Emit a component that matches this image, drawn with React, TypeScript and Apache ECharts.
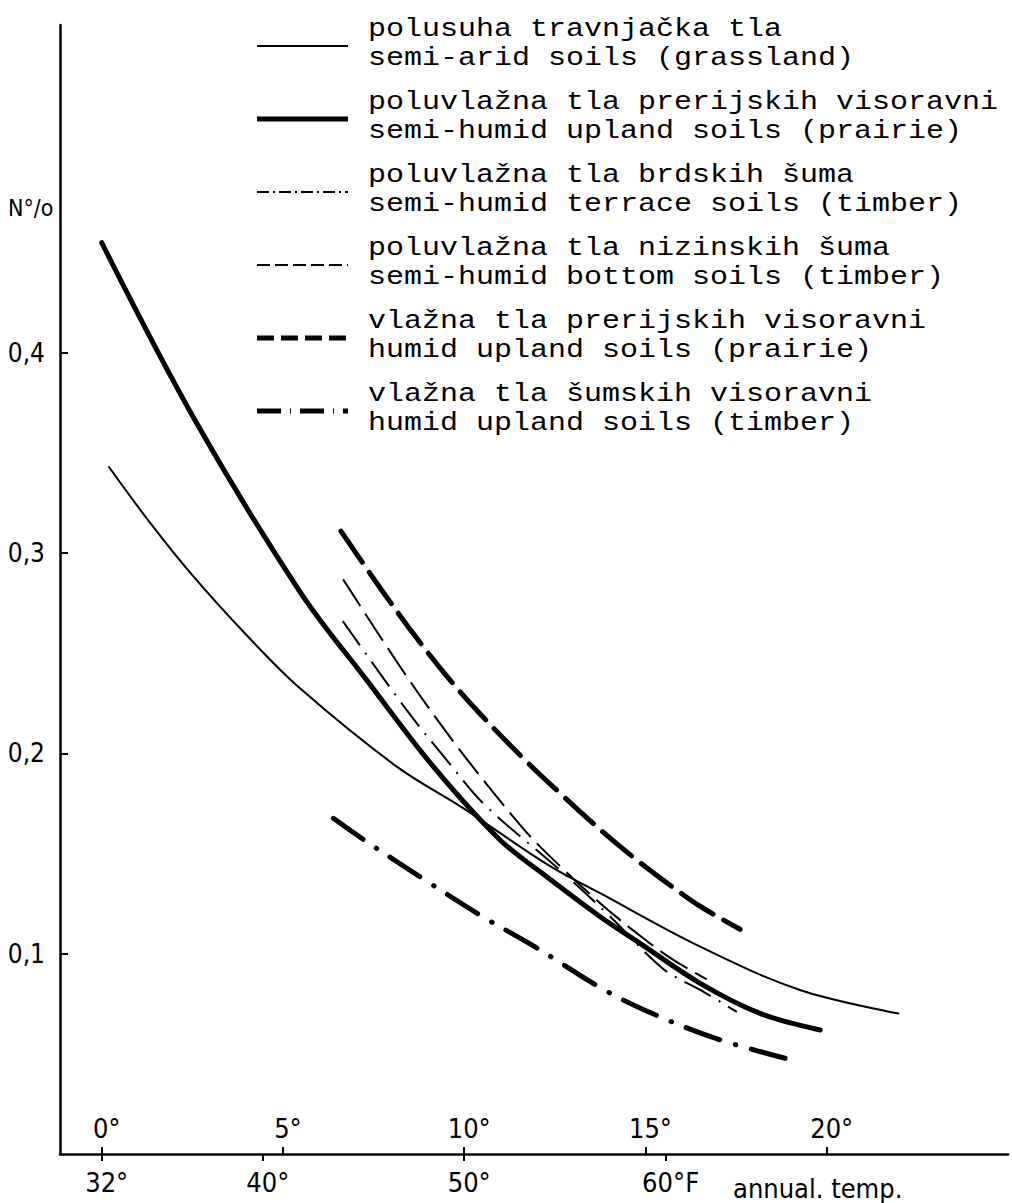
import React, { useEffect, useRef } from "react";
import * as echarts from "echarts";

// Axis ticks
const celsiusTicks = [0, 5, 10, 15, 20];
const fahrenheitTicks = [32, 40, 50, 60];
const nTicks = [0.1, 0.2, 0.3, 0.4];

// Series data: [annual temperature °C, N %]
const semiAridGrassland = [
  [0.2, 0.343], [1.3, 0.316], [2.5, 0.289], [4.0, 0.259], [5.47, 0.2325], [8.14, 0.1934],
  [9.98, 0.1726], [12.3, 0.1445], [13.75, 0.1302], [16.51, 0.1035], [19.26, 0.0819],
  [21.98, 0.0702],
];
const semiHumidUplandPrairie = [
  [0.0, 0.455], [2.57, 0.3665], [5.47, 0.2807], [7.31, 0.2366], [9.15, 0.1934],
  [10.99, 0.1568], [12.28, 0.1384], [13.75, 0.1185], [14.85, 0.1052], [16.51, 0.0852],
  [18.16, 0.0702], [19.82, 0.0619],
];
const semiHumidTerraceTimber = [
  [6.65, 0.2661], [8.41, 0.2217], [9.54, 0.1962], [10.55, 0.1746], [12.64, 0.1418],
  [14.0, 0.119], [15.49, 0.0924], [16.51, 0.0819], [17.52, 0.071],
];
const semiHumidBottomTimber = [
  [6.66, 0.2869], [8.43, 0.238], [9.88, 0.2017], [11.54, 0.1643], [12.28, 0.1501],
  [13.75, 0.1252], [14.94, 0.1077], [15.77, 0.0969], [16.69, 0.0872],
];
const humidUplandPrairie = [
  [6.6, 0.311], [7.76, 0.2806], [8.73, 0.2566], [9.61, 0.2366], [10.52, 0.2182],
  [11.62, 0.1977], [12.7, 0.1792], [13.83, 0.1607], [14.85, 0.1455], [15.86, 0.1318],
  [16.55, 0.1232], [17.61, 0.1122],
];
const humidUplandTimber = [
  [6.39, 0.1676], [7.31, 0.1559], [8.92, 0.1368], [10.5, 0.1186], [12.0, 0.1029],
  [13.79, 0.0827], [15.03, 0.0714], [16.92, 0.0578], [18.85, 0.0478],
];

const legendLocal = [
  "polusuha travnjačka tla",
  "poluvlažna tla prerijskih visoravni",
  "poluvlažna tla brdskih šuma",
  "poluvlažna tla nizinskih šuma",
  "vlažna tla prerijskih visoravni",
  "vlažna tla šumskih visoravni",
];
const legendEnglish = [
  "semi-arid soils (grassland)",
  "semi-humid upland soils (prairie)",
  "semi-humid terrace soils (timber)",
  "semi-humid bottom soils (timber)",
  "humid upland soils (prairie)",
  "humid upland soils (timber)",
];

const seriesData = [
  semiAridGrassland,
  semiHumidUplandPrairie,
  semiHumidTerraceTimber,
  semiHumidBottomTimber,
  humidUplandPrairie,
  humidUplandTimber,
];

const lineStyles: any[] = [
  { width: 2, type: "solid", cap: "round" },
  { width: 5, type: "solid", cap: "round" },
  { width: 2, type: [30, 9, 2, 9], cap: "butt" },
  { width: 2, type: [32, 9], cap: "butt" },
  { width: 5, type: [38, 12], cap: "round" },
  { width: 5, type: [36, 16, 0.5, 16], cap: "round" },
];
const legendDash: any[] = [null, null, [12, 4, 2, 4], [13, 5], [17, 7], [24, 9, 1, 9]];

const FONT = "'Liberation Sans Narrow', 'DejaVu Sans Condensed', Roboto, sans-serif";
const MONO = "'Liberation Mono', 'DejaVu Sans Mono', monospace";

export default function App() {
  const ref = useRef<HTMLDivElement>(null);
  useEffect(() => {
    const chart = echarts.init(ref.current!, null, { renderer: "svg" });
    const cMin = -1.15;
    const cMax = 25;
    const legendChildren: any[] = [];
    legendLocal.forEach((t, i) => {
      const step = 73;
      const sy = 46 + step * i;
      legendChildren.push({
        type: "line",
        shape: { x1: 257, y1: sy, x2: 348, y2: sy },
        style: {
          stroke: "#000",
          lineWidth: lineStyles[i].width,
          lineDash: legendDash[i] || undefined,
        },
      });
      [t, legendEnglish[i]].forEach((line, k) => {
        legendChildren.push({
          type: "text",
          x: 368,
          y: 29 + step * i + 29 * k,
          scaleX: 1.2,
          style: {
            text: line,
            font: `25px ${MONO}`,
            fill: "#000",
            verticalAlign: "middle",
          },
        });
      });
    });

    const option: any = {
      animation: false,
      backgroundColor: "#fff",
      grid: { left: 60, right: 4, top: 25, bottom: 49, containLabel: false, outerBoundsMode: "none" },
      xAxis: [
        {
          type: "value",
          position: "bottom",
          min: cMin,
          max: cMax,
          axisLine: { show: true, onZero: false, lineStyle: { color: "#000", width: 2.5 } },
          axisTick: { show: true, inside: true, length: 7, customValues: celsiusTicks, lineStyle: { color: "#000", width: 2 } },
          axisLabel: {
            inside: true,
            customValues: celsiusTicks,
            formatter: (v: number) => `${v}°`,
            fontSize: 27,
            fontFamily: FONT,
            color: "#000",
            margin: 12,
            padding: [0, 0, 0, 10],
          },
          splitLine: { show: false },
        },
        {
          type: "value",
          position: "bottom",
          min: cMin * 1.8 + 32,
          max: cMax * 1.8 + 32,
          axisLine: { show: false, onZero: false },
          axisTick: { show: true, inside: false, length: 7, customValues: fahrenheitTicks, lineStyle: { color: "#000", width: 2 } },
          axisLabel: {
            customValues: fahrenheitTicks,
            formatter: (v: number) => (v === 60 ? "60°F" : `${v}°`),
            fontSize: 27,
            fontFamily: FONT,
            color: "#000",
            margin: 15,
            padding: [0, 0, 0, 10],
          },
          splitLine: { show: false },
        },
      ],
      yAxis: {
        type: "value",
        min: 0,
        max: 0.5637,
        axisLine: { show: true, onZero: false, lineStyle: { color: "#000", width: 2.5 } },
        axisTick: { show: true, inside: true, length: 8, customValues: nTicks, lineStyle: { color: "#000", width: 2 } },
        axisLabel: {
          customValues: nTicks,
          formatter: (v: number) => v.toFixed(1).replace(".", ","),
          fontSize: 26,
          fontFamily: FONT,
          color: "#000",
          margin: 15,
        },
        splitLine: { show: false },
      },
      series: seriesData.map((d, i) => ({
        type: "line",
        name: legendEnglish[i],
        xAxisIndex: 0,
        data: d,
        smooth: 0.35,
        symbol: "none",
        lineStyle: { color: "#000", ...lineStyles[i] },
      })),
      graphic: [
        {
          type: "text",
          x: 8,
          y: 208,
          style: { text: "N°/o", font: `23px ${FONT}`, fill: "#000", verticalAlign: "middle" },
        },
        {
          type: "text",
          x: 733,
          y: 1188,
          style: { text: "annual. temp.", font: `27px ${FONT}`, fill: "#000", verticalAlign: "middle" },
        },
        { type: "group", children: legendChildren },
      ],
    };
    chart.setOption(option);
    return () => chart.dispose();
  }, []);
  return (
    <div
      ref={ref}
      style={{ position: "absolute", left: 0, top: 0, width: 1012, height: 1203 }}
    />
  );
}
